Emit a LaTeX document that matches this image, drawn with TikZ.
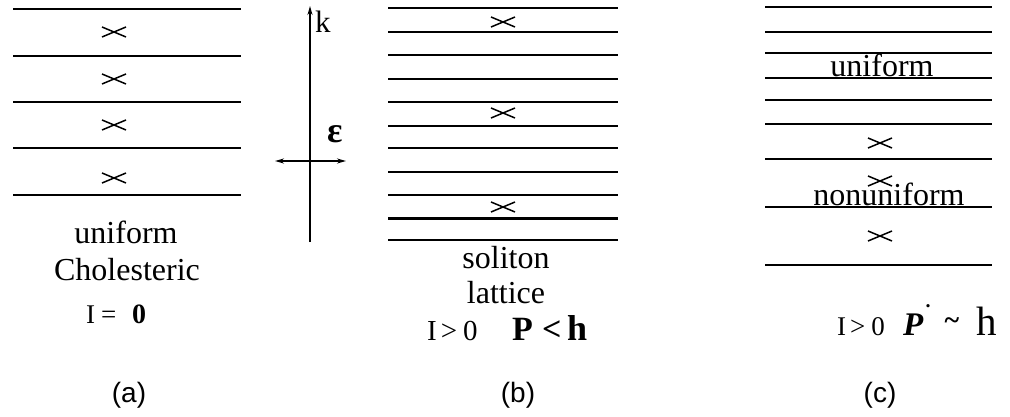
\documentclass[tikz,border=0pt]{standalone}
\usepackage{fontspec}
\setmainfont{Liberation Serif}
\newfontfamily\labfont{Liberation Sans}
\usetikzlibrary{arrows.meta}
\tikzset{
  layer/.style={line width=1.9pt},
  thicklayer/.style={line width=3pt},
  crossmark/.style={line width=1.5pt},
  txt/.style={inner sep=0pt, font=\fontsize{32}{36}\selectfont},
  small/.style={inner sep=0pt, anchor=base west, font=\fontsize{27}{30}\selectfont},
  big/.style={inner sep=0pt, anchor=base west, font=\fontsize{34}{38}\selectfont\bfseries},
  lab/.style={inner sep=0pt, font=\labfont\fontsize{28}{32}\selectfont},
  axis/.style={line width=1.5pt},
}
\begin{document}
\begin{tikzpicture}[x=1pt,y=-1pt]
\useasboundingbox (0,0) rectangle (1010,417);
% ---------- panel (a)
\foreach \y [count=\i] in {9,56,102,148,195}{
  \coordinate (aL\i) at (13,\y); \coordinate (aR\i) at (241,\y);
  \draw[layer] (aL\i) -- (aR\i);
}
\foreach \y [count=\i] in {32,79,125,178}{
  \coordinate (ac\i) at (114,\y);
  \draw[crossmark] ([shift={(-12,-5)}]ac\i) -- ([shift={(12,5)}]ac\i);
  \draw[crossmark] ([shift={(-12,5)}]ac\i) -- ([shift={(12,-5)}]ac\i);
}
\node[txt,anchor=base] (auni) at (126,243) {uniform};
\node[txt,anchor=base] (achol) at (127,280) {Cholesteric};
\node[small] (aI) at (86,323) {I\kern6pt=};
\node[small,font=\fontsize{28}{30}\selectfont\bfseries] (a0) at (132,323) {0};
\node[lab,anchor=base] (alab) at (129,402) {(a)};
% ---------- axes
\coordinate (kb) at (310,242);
\coordinate (kt) at (310,6);
\draw[axis,-{Stealth[length=9pt,width=5pt]}] (kb) -- (kt);
\coordinate (el) at (275,161);
\coordinate (er) at (346,161);
\draw[axis,{Stealth[length=9pt,width=5pt]}-{Stealth[length=9pt,width=5pt]}] (el) -- (er);
\node[inner sep=0pt,anchor=base west,font=\fontsize{31}{34}\selectfont] (k) at (315,33) {k};
\node[inner sep=0pt,anchor=base west,font=\fontsize{36}{40}\selectfont\bfseries] (eps) at (327,143) {ε};
% ---------- panel (b)
\foreach \y [count=\i] in {8,32,55,79,102,126,148,172,195,240}{
  \coordinate (bL\i) at (388,\y); \coordinate (bR\i) at (618,\y);
  \draw[layer] (bL\i) -- (bR\i);
}
\coordinate (bLt) at (388,218); \coordinate (bRt) at (618,218);
\draw[thicklayer] (bLt) -- (bRt);
\foreach \y [count=\i] in {22,113,207}{
  \coordinate (bc\i) at (503,\y);
  \draw[crossmark] ([shift={(-12,-5)}]bc\i) -- ([shift={(12,5)}]bc\i);
  \draw[crossmark] ([shift={(-12,5)}]bc\i) -- ([shift={(12,-5)}]bc\i);
}
\node[txt,anchor=base] (bsol) at (506,268) {soliton};
\node[txt,anchor=base] (blat) at (506,303) {lattice};
\node[small,font=\fontsize{29}{32}\selectfont] (bI) at (427,340) {I\kern4pt>\kern6pt0};
\node[big] (bP) at (512,340) {P};
\node[big] (blt) at (542,340) {<};
\node[big,font=\fontsize{36}{40}\selectfont\bfseries] (bh) at (567,340) {h};
\node[lab,anchor=base] (blab) at (518,402) {(b)};
% ---------- panel (c)
\foreach \y [count=\i] in {7,32,53,78,100,124,159,207,265}{
  \coordinate (cL\i) at (765,\y); \coordinate (cR\i) at (992,\y);
  \draw[layer] (cL\i) -- (cR\i);
}
\foreach \y [count=\i] in {143,181,236}{
  \coordinate (cc\i) at (880,\y);
  \draw[crossmark] ([shift={(-12,-5)}]cc\i) -- ([shift={(12,5)}]cc\i);
  \draw[crossmark] ([shift={(-12,5)}]cc\i) -- ([shift={(12,-5)}]cc\i);
}
\node[txt,anchor=base] (cuni) at (882,77) {uniform};
\node[txt,anchor=base] (cnon) at (889,206) {nonuniform};
\node[small,font=\fontsize{27}{30}\selectfont] (cI) at (837,335) {I\kern4pt>\kern6pt0};
\node[small,font=\fontsize{33}{35}\selectfont\bfseries\itshape] (cP) at (903,335) {P};
\node[inner sep=0pt,anchor=base,font=\fontsize{20}{22}\selectfont\bfseries] (cdot) at (928,307) {.};
\node[inner sep=0pt,font=\fontsize{28}{30}\selectfont\bfseries] (ctil) at (952,324) {\char"007E};
\node[small,font=\fontsize{41}{44}\selectfont] (ch) at (976,335) {h};
\node[lab,anchor=base] (clab) at (880,402) {(c)};
\end{tikzpicture}
\end{document}
